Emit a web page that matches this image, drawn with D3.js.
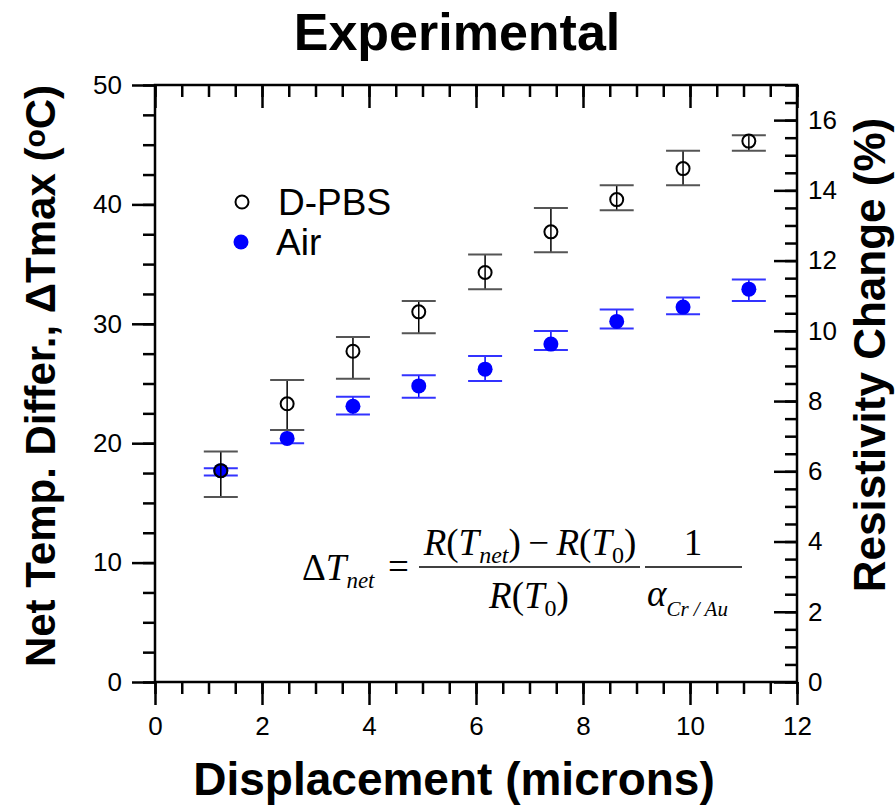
<!DOCTYPE html>
<html>
<head>
<meta charset="utf-8">
<script src="https://cdn.jsdelivr.net/npm/d3@7"></script>
<style>
  body { margin: 0; background: #fff; }
  svg { display: block; }
</style>
</head>
<body>
<svg id="chart"></svg>
<script>
// data
const displacement = [1.23, 2.47, 3.70, 4.93, 6.17, 7.40, 8.63, 9.87, 11.10];
const pbsMean = [17.7, 23.3, 27.7, 31.0, 34.3, 37.7, 40.4, 43.0, 45.3];
const pbsHigh = [19.3, 25.3, 28.9, 31.9, 35.8, 39.7, 41.6, 44.5, 45.8];
const pbsLow  = [15.5, 21.1, 25.4, 29.2, 32.9, 36.0, 39.5, 41.6, 44.5];
const airMean = [17.7, 20.4, 23.1, 24.8, 26.2, 28.3, 30.2, 31.4, 32.9];
const airHigh = [17.9, 21.1, 23.9, 25.7, 27.3, 29.4, 31.2, 32.2, 33.7];
const airLow  = [17.3, 20.0, 22.4, 23.8, 25.2, 27.8, 29.6, 30.8, 31.9];

const xTicks = [0, 2, 4, 6, 8, 10, 12];
const yTicks = [0, 10, 20, 30, 40, 50];
const rTicks = [0, 2, 4, 6, 8, 10, 12, 14, 16];

const width = 895, height = 807;
const margin = { top: 85, right: 98, bottom: 125, left: 155 };
const innerWidth = width - margin.left - margin.right;
const innerHeight = height - margin.top - margin.bottom;

const sans = "Arial, 'Liberation Sans', sans-serif";
const serif = "'Times New Roman', 'Liberation Serif', serif";

const svg = d3.select('#chart')
  .attr('width', width)
  .attr('height', height);

const xScale = d3.scaleLinear().domain([0, 12]).range([0, innerWidth]);
const yScale = d3.scaleLinear().domain([0, 50]).range([innerHeight, 0]);
const rScale = d3.scaleLinear().domain([0, 17]).range([innerHeight, 0]);

const g = svg.append('g')
  .attr('transform', `translate(${margin.left},${margin.top})`);

const minors = (lo, hi, step) => d3.range(lo, hi + 1e-9, step);

function styleAxis(sel, labels) {
  sel.select('.domain').remove();
  sel.selectAll('line').attr('stroke', '#000').attr('stroke-width', 2.5);
  if (!labels) sel.selectAll('text').remove();
  sel.selectAll('text').attr('font-family', sans).attr('font-size', 26).attr('fill', '#000');
}

// bottom axis (ticks out)
g.append('g').attr('transform', `translate(0,${innerHeight})`)
  .call(d3.axisBottom(xScale).tickValues(minors(0, 12, 0.5)).tickSize(12).tickSizeOuter(0))
  .call(s => styleAxis(s, false));
g.append('g').attr('transform', `translate(0,${innerHeight})`)
  .call(d3.axisBottom(xScale).tickValues(xTicks).tickFormat(d3.format('d')).tickSize(23).tickPadding(12).tickSizeOuter(0))
  .call(s => styleAxis(s, true));

// top axis (ticks in)
g.append('g')
  .call(d3.axisBottom(xScale).tickValues(minors(0, 12, 0.5)).tickSize(12).tickSizeOuter(0))
  .call(s => styleAxis(s, false));
g.append('g')
  .call(d3.axisBottom(xScale).tickValues(xTicks).tickSize(23).tickSizeOuter(0))
  .call(s => styleAxis(s, false));

// left axis (ticks out)
g.append('g')
  .call(d3.axisLeft(yScale).tickValues(minors(0, 50, 2.5)).tickSize(12).tickSizeOuter(0))
  .call(s => styleAxis(s, false));
g.append('g')
  .call(d3.axisLeft(yScale).tickValues(yTicks).tickFormat(d3.format('d')).tickSize(23).tickPadding(10).tickSizeOuter(0))
  .call(s => styleAxis(s, true));

// right axis (ticks in, labels out)
g.append('g').attr('transform', `translate(${innerWidth},0)`)
  .call(d3.axisLeft(rScale).tickValues(minors(0, 17, 0.5)).tickSize(12).tickSizeOuter(0))
  .call(s => styleAxis(s, false));
const rAxis = g.append('g').attr('transform', `translate(${innerWidth},0)`)
  .call(d3.axisLeft(rScale).tickValues(rTicks).tickFormat(d3.format('d')).tickSize(23).tickSizeOuter(0))
  .call(s => styleAxis(s, true));
rAxis.selectAll('text').attr('x', 11).attr('text-anchor', 'start');

// frame
g.append('rect')
  .attr('width', innerWidth).attr('height', innerHeight)
  .attr('fill', 'none').attr('stroke', '#000').attr('stroke-width', 2.5);

// error bars + points
const capHalf = 17;
function drawSeries(mean, high, low, color, capColor, filled) {
  const rows = displacement.map((x, i) => ({ x, m: mean[i], hi: high[i], lo: low[i] }));
  const s = g.append('g');
  s.selectAll('line.stem').data(rows).join('line')
    .attr('x1', d => xScale(d.x)).attr('x2', d => xScale(d.x))
    .attr('y1', d => yScale(d.hi)).attr('y2', d => yScale(d.lo))
    .attr('stroke', color).attr('stroke-width', 1.5);
  ['hi', 'lo'].forEach(k => {
    s.selectAll('line.cap-' + k).data(rows).join('line')
      .attr('x1', d => xScale(d.x) - capHalf).attr('x2', d => xScale(d.x) + capHalf)
      .attr('y1', d => yScale(d[k])).attr('y2', d => yScale(d[k]))
      .attr('stroke', capColor).attr('stroke-width', 2);
  });
  s.selectAll('circle').data(rows).join('circle')
    .attr('cx', d => xScale(d.x)).attr('cy', d => yScale(d.m))
    .attr('r', filled ? 7.5 : 6.5)
    .attr('fill', filled ? color : 'none')
    .attr('stroke', filled ? 'none' : color)
    .attr('stroke-width', 2);
}
drawSeries(airMean, airHigh, airLow, '#0000ff', '#3333ff', true);
drawSeries(pbsMean, pbsHigh, pbsLow, '#000', '#555', false);

// legend
svg.append('circle').attr('cx', 242).attr('cy', 202).attr('r', 6.5)
  .attr('fill', 'none').attr('stroke', '#000').attr('stroke-width', 2);
svg.append('text').attr('x', 278).attr('y', 215).text('D-PBS')
  .attr('font-family', sans).attr('font-size', 37);
svg.append('circle').attr('cx', 241).attr('cy', 242).attr('r', 7.5).attr('fill', '#0000ff');
svg.append('text').attr('x', 276).attr('y', 255).text('Air')
  .attr('font-family', sans).attr('font-size', 37);

// formula
const f = svg.append('g').attr('font-family', serif).attr('font-size', 37).attr('fill', '#000');
const lhs = f.append('text').attr('x', 302).attr('y', 580);
lhs.append('tspan').text('\u0394');
lhs.append('tspan').attr('font-style', 'italic').text('T');
lhs.append('tspan').attr('font-style', 'italic').attr('font-size', 23).attr('dy', 8).text('net');
f.append('text').attr('x', 388).attr('y', 579).text('=');
const num = f.append('text').attr('x', 530).attr('y', 555).attr('text-anchor', 'middle');
num.append('tspan').attr('font-style', 'italic').text('R');
num.append('tspan').text('(');
num.append('tspan').attr('font-style', 'italic').text('T');
num.append('tspan').attr('font-style', 'italic').attr('font-size', 24).attr('dy', 8).text('net');
num.append('tspan').attr('dy', -8).text(')\u2009\u2212\u2009');
num.append('tspan').attr('font-style', 'italic').text('R');
num.append('tspan').text('(');
num.append('tspan').attr('font-style', 'italic').text('T');
num.append('tspan').attr('font-size', 24).attr('dy', 8).text('0');
num.append('tspan').attr('dy', -8).text(')');
f.append('line').attr('x1', 419).attr('x2', 640).attr('y1', 567).attr('y2', 567)
  .attr('stroke', '#000').attr('stroke-width', 1.5);
const den = f.append('text').attr('x', 529).attr('y', 608).attr('text-anchor', 'middle');
den.append('tspan').attr('font-style', 'italic').text('R');
den.append('tspan').text('(');
den.append('tspan').attr('font-style', 'italic').text('T');
den.append('tspan').attr('font-size', 24).attr('dy', 8).text('0');
den.append('tspan').attr('dy', -8).text(')');
f.append('text').attr('x', 693).attr('y', 555).attr('text-anchor', 'middle').text('1');
f.append('line').attr('x1', 645).attr('x2', 742).attr('y1', 567).attr('y2', 567)
  .attr('stroke', '#000').attr('stroke-width', 1.5);
const al = f.append('text').attr('x', 647).attr('y', 606);
al.append('tspan').attr('font-style', 'italic').text('\u03B1');
al.append('tspan').attr('font-style', 'italic').attr('font-size', 21).attr('dy', 10).text('Cr / Au');

// titles
svg.append('text').attr('x', 457).attr('y', 50).attr('text-anchor', 'middle')
  .attr('font-family', sans).attr('font-weight', 'bold').attr('font-size', 52)
  .text('Experimental');
svg.append('text').attr('x', 454).attr('y', 795).attr('text-anchor', 'middle')
  .attr('font-family', sans).attr('font-weight', 'bold').attr('font-size', 46)
  .text('Displacement (microns)');
const yl = svg.append('text')
  .attr('transform', 'translate(55,376) rotate(-90)').attr('text-anchor', 'middle')
  .attr('font-family', sans).attr('font-weight', 'bold').attr('font-size', 42);
yl.append('tspan').text('Net Temp. Differ., \u0394Tmax (');
yl.append('tspan').attr('font-size', 30).attr('dy', -10).text('o');
yl.append('tspan').attr('dy', 10).text('C)');
svg.append('text')
  .attr('transform', 'translate(885,355) rotate(-90)').attr('text-anchor', 'middle')
  .attr('font-family', sans).attr('font-weight', 'bold').attr('font-size', 44)
  .text('Resistivity Change (%)');
</script>
</body>
</html>
